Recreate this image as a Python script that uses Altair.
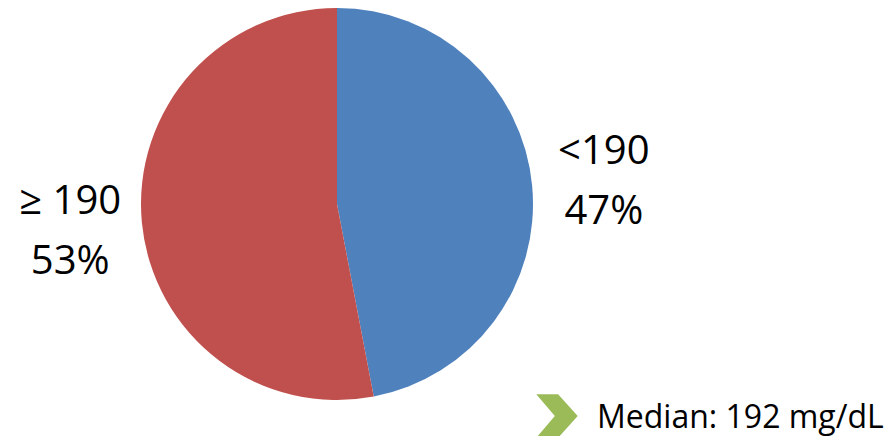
import altair as alt
import pandas as pd

categories = ["<190", "≥ 190"]
shares = [47, 53]
pct_labels = ["47%", "53%"]
colors = ["#4F81BD", "#C0504D"]
note_text = ["Median: 192 mg/dL"]

df = pd.DataFrame({
    "group": categories,
    "share": shares,
    "idx": list(range(len(categories))),
    "label": [f"{c}\n{p}" for c, p in zip(categories, pct_labels)],
})
note_df = pd.DataFrame({"note": note_text})

base = alt.Chart(df).encode(
    theta=alt.Theta("share:Q", stack=True),
    order=alt.Order("idx:Q"),
    x=alt.value(329),
    y=alt.value(196),
)

pie = base.mark_arc(radius=196).encode(
    color=alt.Color("group:N", scale=alt.Scale(domain=categories, range=colors), legend=None)
)

labels = base.mark_text(
    radius=268, font="Open Sans", fontSize=40, lineHeight=60, lineBreak="\n",
    align="center", baseline="middle", color="#000000", dy=-27
).encode(text="label:N")

chevron = alt.Chart(note_df).mark_point(
    shape="M -0.95 -1 L 0.05 -1 L 0.95 0 L 0.05 1 L -0.95 1 L -0.1 0 Z",
    filled=True, opacity=1, color="#9BBB59", size=1900, strokeWidth=0
).encode(x=alt.value(549), y=alt.value(408))

note = alt.Chart(note_df).mark_text(
    font="Open Sans", fontSize=32, align="left", baseline="alphabetic", color="#000000"
).encode(text="note:N", x=alt.value(589), y=alt.value(420))

chart = alt.layer(pie, labels, chevron, note).properties(
    width=879, height=428, padding=0,
    autosize=alt.AutoSizeParams(type="none")
).configure_view(stroke=None)

chart.save("out.html", embed_options={"renderer": "svg", "actions": False})
